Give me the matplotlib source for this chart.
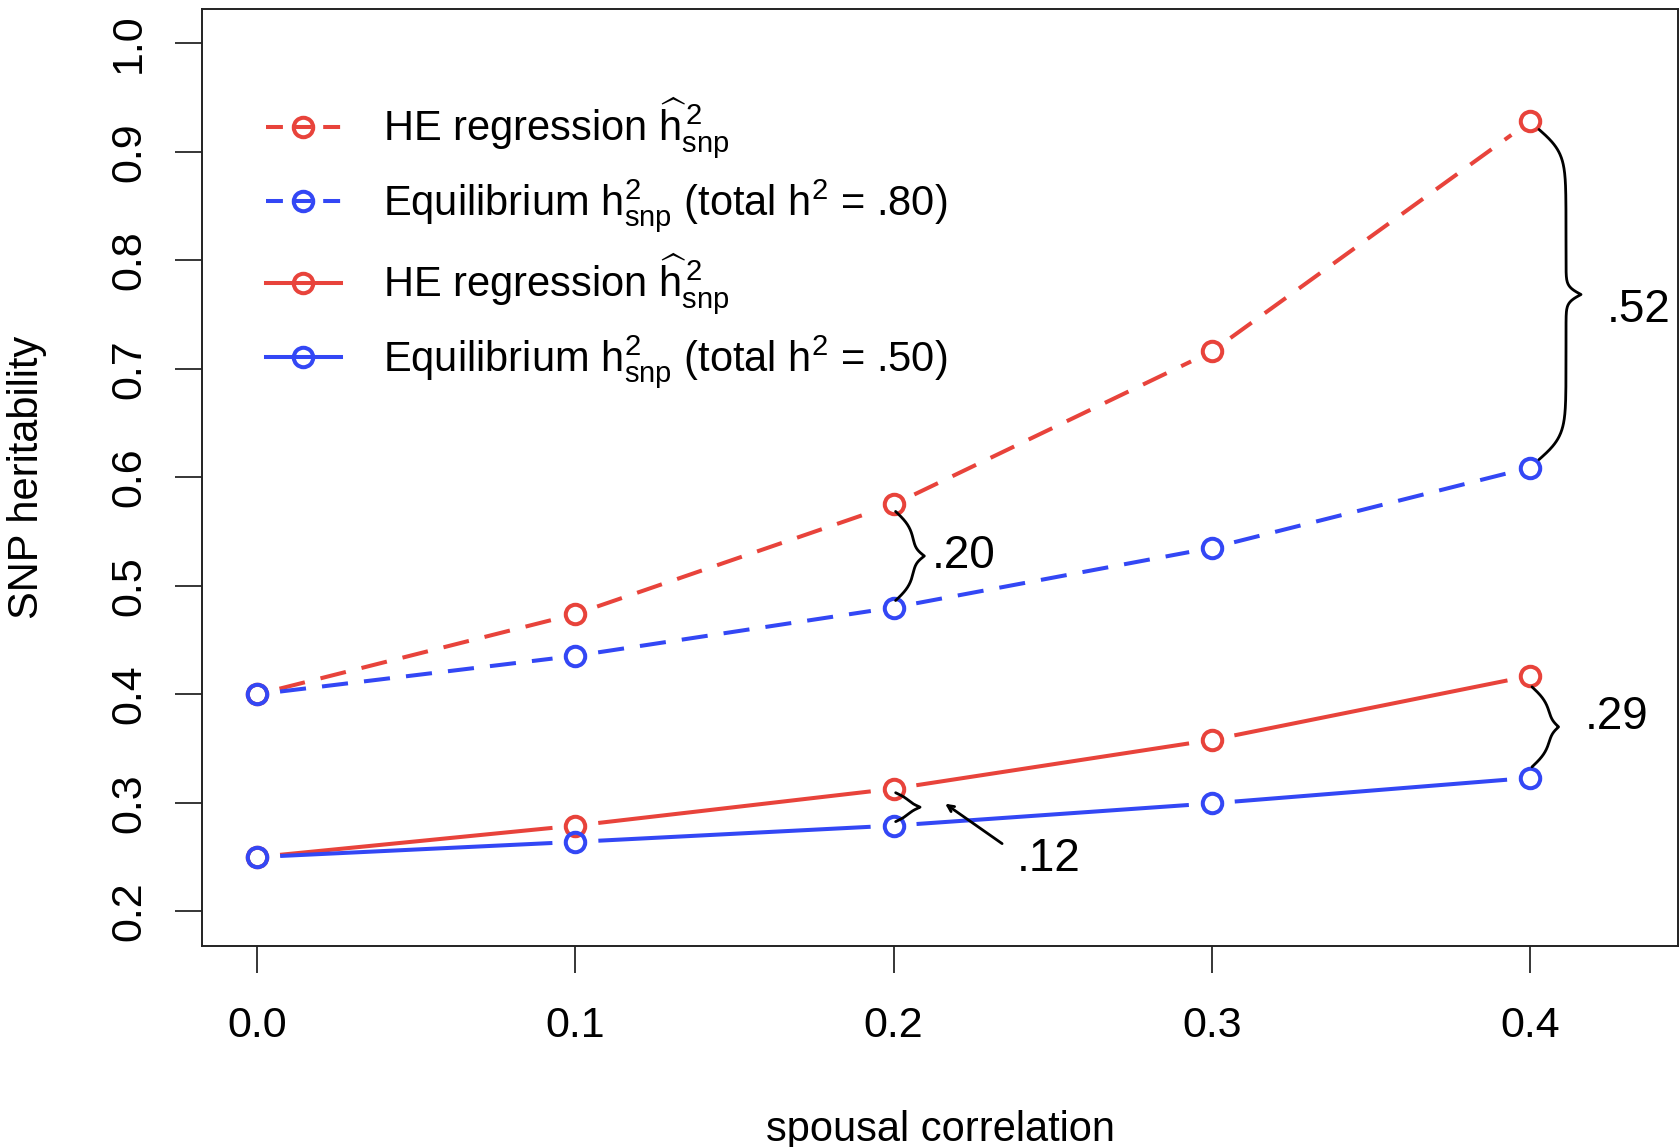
import numpy as np
import matplotlib
matplotlib.use("Agg")
import matplotlib.pyplot as plt
from matplotlib.lines import Line2D

plt.rcParams["font.family"] = ["Liberation Sans", "DejaVu Sans"]
plt.rcParams["mathtext.fontset"] = "custom"
plt.rcParams["mathtext.rm"] = "Liberation Sans"
plt.rcParams["mathtext.it"] = "Liberation Sans"
plt.rcParams["mathtext.bf"] = "Liberation Sans:bold"
plt.rcParams["mathtext.sf"] = "Liberation Sans"

# ---- data -------------------------------------------------------------
spousal_r = [0.0, 0.1, 0.2, 0.3, 0.4]
he_total80 = [0.400, 0.474, 0.575, 0.716, 0.928]   # HE regression estimate, total h2 = .80
eq_total80 = [0.400, 0.4355, 0.480, 0.535, 0.609]  # equilibrium SNP h2, total h2 = .80
he_total50 = [0.250, 0.279, 0.313, 0.358, 0.417]   # HE regression estimate, total h2 = .50
eq_total50 = [0.250, 0.264, 0.279, 0.2995, 0.323]  # equilibrium SNP h2, total h2 = .50

x_ticks = [0.0, 0.1, 0.2, 0.3, 0.4]
y_ticks = [0.2, 0.3, 0.4, 0.5, 0.6, 0.7, 0.8, 0.9, 1.0]

legend_labels = [
    r"HE regression $\widehat{\mathrm{h}}_{\mathrm{snp}}^{\,2}$",
    r"Equilibrium $\mathrm{h}_{\mathrm{snp}}^{2}$ (total $\mathrm{h}^{2}$ = .80)",
    r"HE regression $\widehat{\mathrm{h}}_{\mathrm{snp}}^{\,2}$",
    r"Equilibrium $\mathrm{h}_{\mathrm{snp}}^{2}$ (total $\mathrm{h}^{2}$ = .50)",
]

RED = "#E8433B"
BLUE = "#3347F5"
LW = 2.9
MS = 14
MEW = 2.9
DASH = (6.5, 4.0)

fig = plt.figure(figsize=(16.8, 11.47), dpi=100)
ax = fig.add_axes([0.1205, 0.1752, 0.8783, 0.8173])
ax.set_xlim(-0.0172, 0.4465)
ax.set_ylim(0.168, 1.032)


def gapped_line(xs, ys, color, dashed, gap_px=23):
    """Draw an R-style type='b' line: segments stop short of each point."""
    pts = ax.transData.transform(np.column_stack([xs, ys]))
    inv = ax.transData.inverted()
    for p0, p1 in zip(pts[:-1], pts[1:]):
        d = p1 - p0
        u = d / np.hypot(*d)
        seg = inv.transform(np.vstack([p0 + u * gap_px, p1 - u * gap_px]))
        kw = dict(color=color, lw=LW, solid_capstyle="butt", dash_capstyle="butt")
        if dashed:
            kw["dashes"] = DASH
        ax.plot(seg[:, 0], seg[:, 1], **kw)
    ax.plot(xs, ys, ls="none", marker="o", ms=MS, mfc="none", mec=color, mew=MEW)


gapped_line(spousal_r, he_total80, RED, True)
gapped_line(spousal_r, eq_total80, BLUE, True)
gapped_line(spousal_r, he_total50, RED, False)
gapped_line(spousal_r, eq_total50, BLUE, False)


def brace(x, y_hi, y_lo, x_off, inset, hook, tip, lw=2.0, s1_max=9.0):
    """Curly brace to the right of two points, sized in pixels."""
    top = ax.transData.transform((x, y_hi))
    bot = ax.transData.transform((x, y_lo))
    x0 = top[0] + x_off
    y_start = top[1] - inset
    y_end = bot[1] + inset
    half = (y_start - y_end) / 2.0
    s1 = min(s1_max, half / 4.0)
    s2 = min(4.0, half / 6.0)
    d = np.linspace(0, half, 200)
    sig = lambda v: 1.0 / (1.0 + np.exp(-v))
    xh = hook * (2 * sig(d / s1) - 1) + tip * 2 * sig((d - half) / s2)
    xs = np.concatenate([x0 + xh, x0 + xh[::-1]])
    ys = np.concatenate([y_start - d, y_end + d[::-1]])
    pts = ax.transData.inverted().transform(np.column_stack([xs, ys]))
    ax.plot(pts[:, 0], pts[:, 1], color="black", lw=lw, solid_capstyle="round")


def gap_text(hi, lo):
    return ("%.2f" % (hi / lo - 1)).lstrip("0")


i2, i4 = 2, 4
brace(spousal_r[i4], he_total80[i4], eq_total80[i4], 9, 8, 27, 15, s1_max=12.0)
brace(spousal_r[i2], he_total80[i2], eq_total80[i2], 2, 7, 19, 10)
brace(spousal_r[i4], he_total50[i4], eq_total50[i4], 2, 11, 19, 8)
brace(spousal_r[i2], he_total50[i2], eq_total50[i2], 2, 4, 15, 10)

TXT = 33
ax.text(0.4241, 0.7586, gap_text(he_total80[i4], eq_total80[i4]), fontsize=TXT,
        ha="left", va="center_baseline")
ax.text(0.2120, 0.5323, gap_text(he_total80[i2], eq_total80[i2]), fontsize=TXT,
        ha="left", va="center_baseline")
ax.text(0.4173, 0.3835, gap_text(he_total50[i4], eq_total50[i4]), fontsize=TXT,
        ha="left", va="center_baseline")
ax.text(0.2388, 0.2528, gap_text(he_total50[i2], eq_total50[i2]), fontsize=TXT,
        ha="left", va="center_baseline")
ax.annotate("", xy=(0.2162, 0.2992), xytext=(0.2341, 0.2624),
            arrowprops=dict(arrowstyle="->,head_length=0.45,head_width=0.22",
                            lw=2.0, color="black", shrinkA=0, shrinkB=0))

# ---- legend -------------------------------------------------------------
LEG_DASH = (4.2, 2.9)
handles = [
    Line2D([], [], color=RED, lw=LW, dashes=LEG_DASH, marker="o", ms=MS, mfc="none", mec=RED, mew=MEW),
    Line2D([], [], color=BLUE, lw=LW, dashes=LEG_DASH, marker="o", ms=MS, mfc="none", mec=BLUE, mew=MEW),
    Line2D([], [], color=RED, lw=LW, marker="o", ms=MS, mfc="none", mec=RED, mew=MEW),
    Line2D([], [], color=BLUE, lw=LW, marker="o", ms=MS, mfc="none", mec=BLUE, mew=MEW),
]
ax.legend(handles, legend_labels, loc="upper left", bbox_to_anchor=(0.043, 0.907),
          frameon=False, borderpad=0, borderaxespad=0, handlelength=1.8,
          handletextpad=1.0, labelspacing=0.4, fontsize=30)

# ---- axes styling -----------------------------------------------------
ax.set_xticks(x_ticks)
ax.set_xticklabels(["%.1f" % v for v in x_ticks])
ax.set_yticks(y_ticks)
ax.set_yticklabels(["%.1f" % v for v in y_ticks])
ax.tick_params(axis="both", direction="out", length=19.5, width=1.1, labelsize=31,
               colors="black")
ax.tick_params(axis="x", pad=24)
ax.tick_params(axis="y", pad=19, labelrotation=90)
for lab in ax.get_yticklabels():
    lab.set_verticalalignment("center")
for sp in ax.spines.values():
    sp.set_linewidth(1.4)
    sp.set_color("#222222")

fig.text(940 / 1680, 1 - 1130 / 1147, "spousal correlation", fontsize=30,
         ha="center", va="center")
fig.text(27 / 1680, 1 - 477 / 1147, "SNP heritability", fontsize=30,
         ha="center", va="center", rotation=90)

fig.savefig("out.png", dpi=100)
